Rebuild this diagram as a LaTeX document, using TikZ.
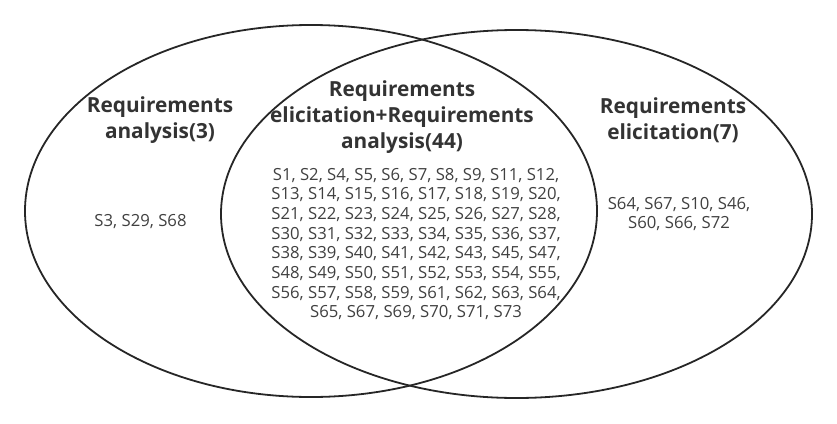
\documentclass[tikz,border=0pt]{standalone}
\usepackage{fontspec}
\setmainfont{Open Sans}
\usetikzlibrary{shapes.geometric}
\definecolor{linecol}{HTML}{262626}
\definecolor{headcol}{HTML}{333333}
\definecolor{bodycol}{HTML}{404040}
\tikzset{
  setell/.style={ellipse, draw=linecol, line width=1.8pt, inner sep=0pt},
  head/.style={align=center, text=headcol, font=\fontsize{20.8}{26}\selectfont\bfseries, inner sep=0pt},
  body/.style={align=center, text=bodycol, font=\fontsize{16.7}{19.7}\selectfont, inner sep=0pt}
}
\begin{document}
\begin{tikzpicture}[x=1pt,y=-1pt]
\useasboundingbox (0,0) rectangle (837,423);
\node[setell, minimum width=572pt, minimum height=372pt] (left) at (311,211) {};
\node[setell, minimum width=591pt, minimum height=368pt] (right) at (516.5,214) {};
\node[head] (lh) at (160,120) {Requirements\\analysis(3)};
\node[body] (lb) at (140.5,222) {S3, S29, S68};
\node[head] (rh) at (673,120) {Requirements\\elicitation(7)};
\node[body] (rb) at (679,214) {S64, S67, S10, S46,\\S60, S66, S72};
\node[head] (ch) at (402,117) {Requirements\\elicitation+Requirements\\analysis(44)};
\node[body] (cb) at (416,244) {S1, S2, S4, S5, S6, S7, S8, S9, S11, S12,\\
S13, S14, S15, S16, S17, S18, S19, S20,\\
S21, S22, S23, S24, S25, S26, S27, S28,\\
S30, S31, S32, S33, S34, S35, S36, S37,\\
S38, S39, S40, S41, S42, S43, S45, S47,\\
S48, S49, S50, S51, S52, S53, S54, S55,\\
S56, S57, S58, S59, S61, S62, S63, S64,\\
S65, S67, S69, S70, S71, S73};
\end{tikzpicture}
\end{document}
